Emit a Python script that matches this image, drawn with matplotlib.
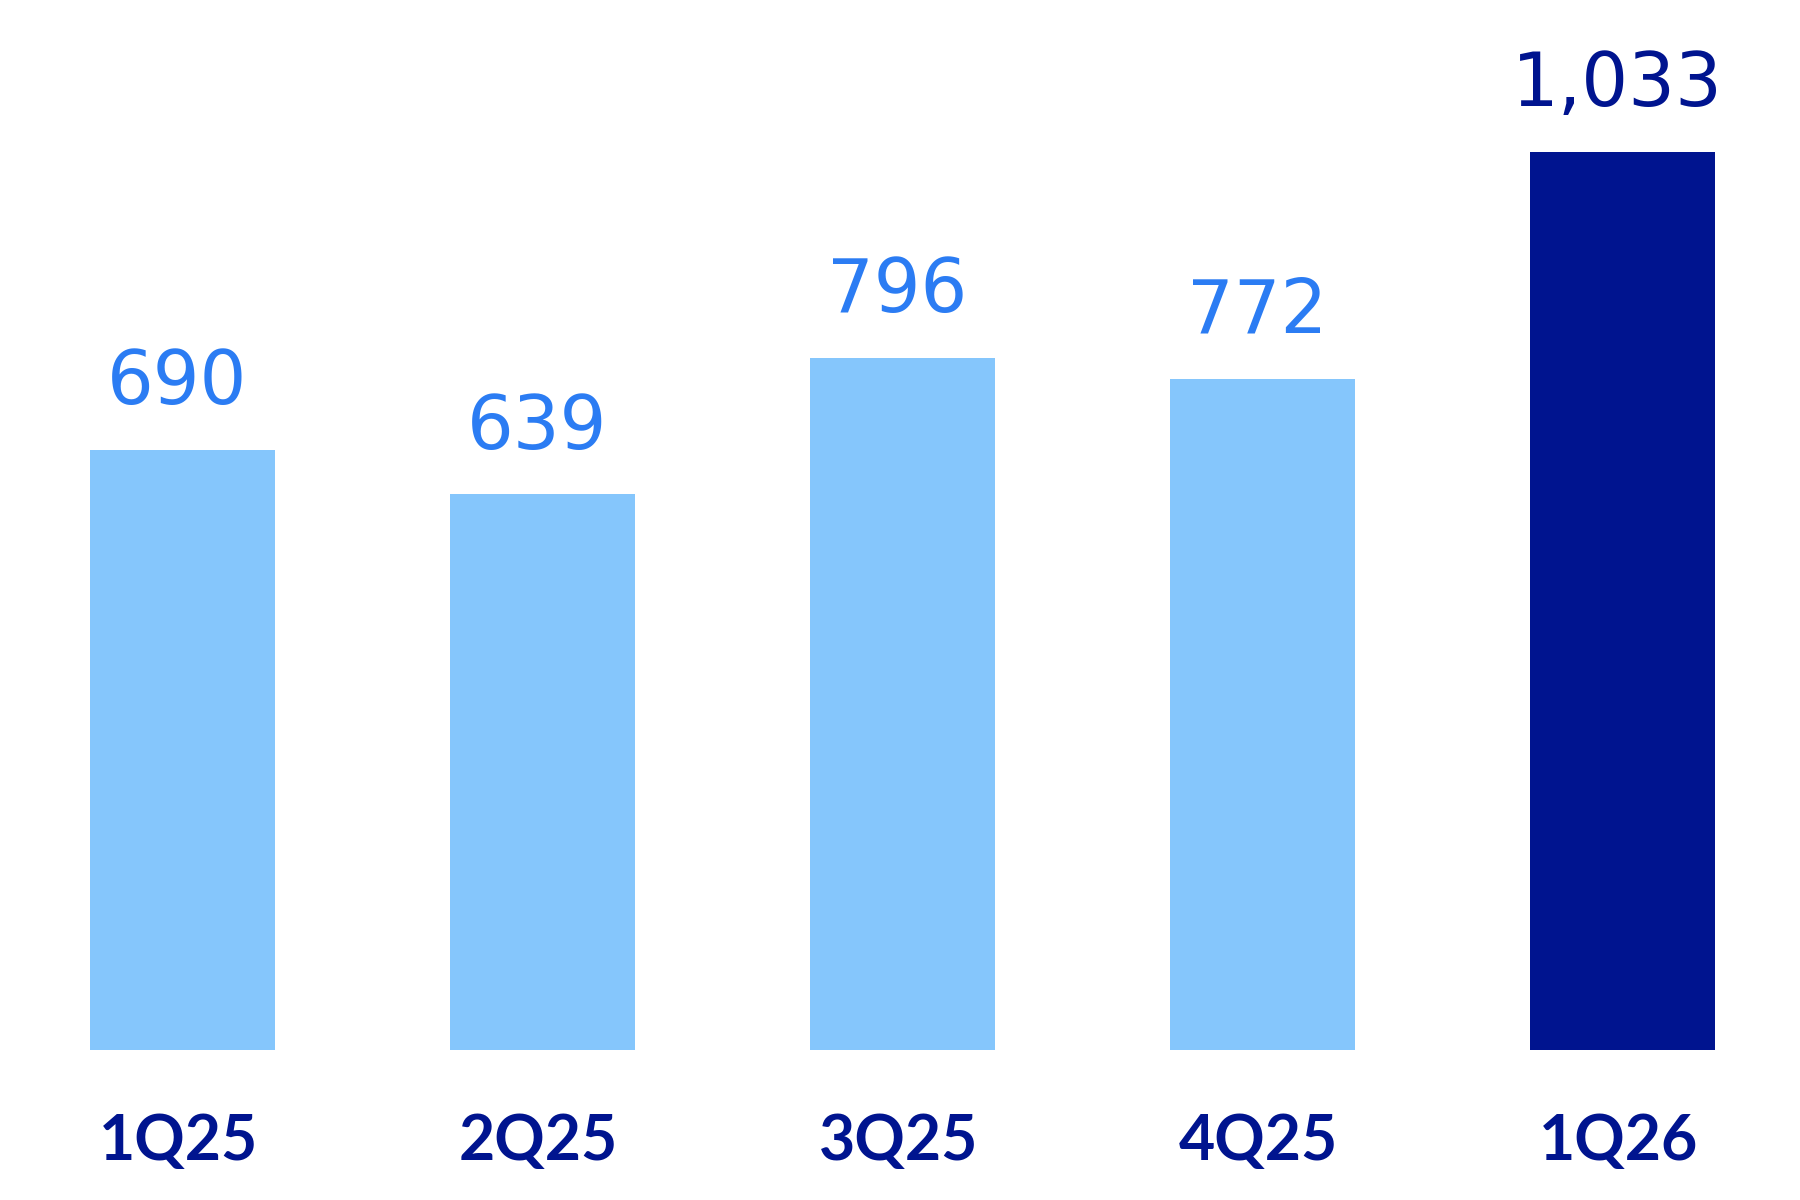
import matplotlib
matplotlib.use("Agg")
import matplotlib.pyplot as plt

# quarters and values
quarters = ['1Q25', '2Q25', '3Q25', '4Q25', '1Q26']
valores = [690, 639, 796, 772, 1033]

light = '#85C6FC'
dark = '#00148F'
label_light = '#2B7CF3'

fig = plt.figure(figsize=(18, 12), dpi=100)
ax = fig.add_axes([0, 0.125, 1, 0.875])

cores = [light, light, light, light, dark]
cores_txt = [label_light, label_light, label_light, label_light, dark]
pos = range(len(quarters))

ax.bar(pos, valores, width=0.514, color=cores)

for i, v in enumerate(valores):
    ax.annotate(f'{v:,}', xy=(i, v), xytext=(-4, 33), textcoords='offset points',
                ha='center', va='baseline', fontsize=53, color=cores_txt[i],
                family='DejaVu Sans')
    ax.annotate(quarters[i], xy=(i, 0), xytext=(-3, -79), textcoords='offset points',
                ha='center', va='baseline', fontsize=45, color=dark,
                fontweight='bold', family=['Lato', 'DejaVu Sans'])

ax.set_xlim(-0.507, 4.493)
ax.set_ylim(0, 1207.5)
ax.axis('off')

fig.savefig('out.png', dpi=100)
